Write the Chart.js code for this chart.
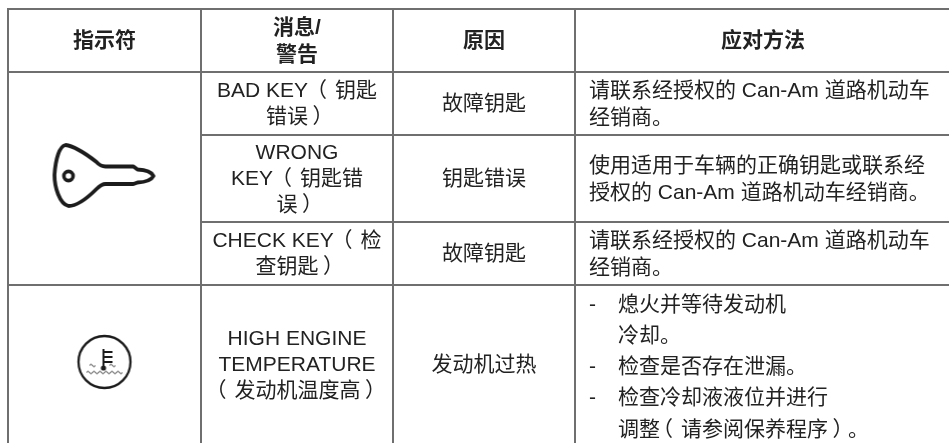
<!DOCTYPE html>
<html lang="zh">
<head>
<meta charset="utf-8">
<title>指示符</title>
<script src="https://cdn.jsdelivr.net/npm/chart.js@4"></script>
<style>
  html, body { margin: 0; padding: 0; background: #fff; }
  canvas { display: block; }
</style>
</head>
<body>
<canvas id="chart" width="949" height="443"></canvas>
<script>
'use strict';

// ── Table content ─────────────────────────────────────────────
const headers  = [['指示符'], ['消息/', '警告'], ['原因'], ['应对方法']];
const messages = [
  ['BAD KEY （钥匙', '错误）'],
  ['WRONG', 'KEY （钥匙错', '误）'],
  ['CHECK KEY （检', '查钥匙）'],
  ['HIGH ENGINE', 'TEMPERATURE', '（发动机温度高）'],
];
const causes   = ['故障钥匙', '钥匙错误', '故障钥匙', '发动机过热'];
const remedies = [
  ['请联系经授权的 Can-Am 道路机动车', '经销商。'],
  ['使用适用于车辆的正确钥匙或联系经', '授权的 Can-Am 道路机动车经销商。'],
  ['请联系经授权的 Can-Am 道路机动车', '经销商。'],
];
const steps    = [
  ['熄火并等待发动机', '冷却。'],
  ['检查是否存在泄漏。'],
  ['检查冷却液液位并进行', '调整（请参阅保养程序）。'],
];

// ── Table geometry, in axis units ─────────────────────────────
const columnEdges = [8, 201, 393, 575, 951];
const rowEdges    = [9, 72, 135, 222, 285, 443];
const ruleStarts  = [8, 8, 201, 201, 8];   // rows 2 and 3 leave the icon cell open
const iconRows    = [176, 362];

const INK  = '#222222';
const RULE = '#6f6f6f';
const FONT = '"Liberation Sans", "Noto Sans CJK SC", sans-serif';
const TEXT_NUDGE = 1;   // middle baseline sits a little high in these fonts

// Full-width brackets sit mid-cell here, not against the text as in Noto
const BRACKETS = {
  '（': { advance: 21, shift: -8 },
  '）': { advance: 20, shift: 4.5 },
};

// ── Icons, used as point styles ───────────────────────────────
function iconCanvas(w, h, draw) {
  const c = document.createElement('canvas');
  c.width = w;
  c.height = h;
  const ctx = c.getContext('2d');
  ctx.strokeStyle = '#1c1c1c';
  ctx.fillStyle = '#1c1c1c';
  ctx.lineJoin = 'round';
  ctx.lineCap = 'round';
  draw(ctx);
  return c;
}

const keyIcon = iconCanvas(110, 70, (ctx) => {
  ctx.lineWidth = 3.8;
  ctx.beginPath();
  ctx.moveTo(56, 25.5);
  ctx.lineTo(84, 25.5);
  ctx.lineTo(88, 28.5);
  ctx.quadraticCurveTo(101, 29, 104, 35);
  ctx.quadraticCurveTo(101, 41, 88, 41.5);
  ctx.lineTo(84, 43);
  ctx.lineTo(56, 43);
  ctx.quadraticCurveTo(52, 43, 47, 48);
  ctx.bezierCurveTo(38, 57, 28, 65, 19, 65);
  ctx.bezierCurveTo(10, 63, 5, 46, 5, 34);
  ctx.bezierCurveTo(6, 18, 10, 5, 16, 4);
  ctx.bezierCurveTo(26, 5, 38, 14, 47, 21);
  ctx.quadraticCurveTo(51, 25.5, 56, 25.5);
  ctx.stroke();
  ctx.lineWidth = 3.6;
  ctx.beginPath();
  ctx.arc(19, 35, 4.6, 0, Math.PI * 2);
  ctx.stroke();
});

const tempIcon = iconCanvas(60, 60, (ctx) => {
  ctx.lineWidth = 2.3;
  ctx.beginPath();
  ctx.arc(30, 30, 26, 0, Math.PI * 2);
  ctx.stroke();
  ctx.lineCap = 'butt';
  ctx.lineWidth = 2;
  ctx.beginPath();
  ctx.moveTo(29, 17);
  ctx.lineTo(29, 36);
  [20, 25, 30].forEach((y) => {
    ctx.moveTo(29, y);
    ctx.lineTo(38, y);
  });
  ctx.stroke();
  ctx.beginPath();
  ctx.arc(29, 36, 2.6, 0, Math.PI * 2);
  ctx.fill();
  ctx.lineWidth = 0.9;
  const wave = (from, to, y) => {
    ctx.moveTo(from, y);
    for (let x = from; x < to; x += 6) {
      ctx.quadraticCurveTo(x + 1.5, y - 2.6, x + 3, y);
      ctx.quadraticCurveTo(x + 4.5, y + 2.6, x + 6, y);
    }
  };
  ctx.beginPath();
  wave(15, 21, 33.5);
  wave(35, 41, 33.5);
  wave(12, 48, 40.5);
  ctx.stroke();
});

// ── Datasets ──────────────────────────────────────────────────
function rule(from, to) {
  return {
    type: 'line',
    data: [from, to],
    borderColor: RULE,
    borderWidth: 2,
    borderCapStyle: 'square',
    pointRadius: 0,
    clip: false,
  };
}

const lastRow = rowEdges[rowEdges.length - 1];
const verticalRules = columnEdges.map((x) => rule({ x, y: rowEdges[0] }, { x, y: lastRow }));
const horizontalRules = ruleStarts.map((x, i) =>
  rule({ x, y: rowEdges[i] }, { x: columnEdges[4], y: rowEdges[i] }));

const iconColumn = (columnEdges[0] + columnEdges[1]) / 2;
const iconPoints = {
  type: 'scatter',
  data: iconRows.map((y) => ({ x: iconColumn, y })),
  pointStyle: [keyIcon, tempIcon],
  pointRadius: 1,
  clip: false,
};

// ── Cell text ─────────────────────────────────────────────────
function putLine(ctx, line, x, y, align, weight) {
  ctx.font = `${weight} 21px ${FONT}`;
  ctx.textAlign = 'left';
  const runs = line.split(/([（）])/).filter(Boolean).map((text) => {
    const bracket = BRACKETS[text];
    return {
      text,
      width: bracket ? bracket.advance : ctx.measureText(text).width,
      shift: bracket ? bracket.shift : 0,
    };
  });
  const total = runs.reduce((sum, r) => sum + r.width, 0);
  let cursor = align === 'center' ? x - total / 2 : x;
  runs.forEach((r) => {
    ctx.fillText(r.text, cursor + r.shift, y);
    cursor += r.width;
  });
}

function centred(ctx, scales, lines, col, row, pitch, weight) {
  const x = scales.x.getPixelForValue((columnEdges[col] + columnEdges[col + 1]) / 2);
  const mid = scales.y.getPixelForValue((rowEdges[row] + rowEdges[row + 1]) / 2) + TEXT_NUDGE;
  lines.forEach((line, i) => {
    putLine(ctx, line, x, mid + (i - (lines.length - 1) / 2) * pitch, 'center', weight);
  });
}

function leftAligned(ctx, scales, lines, row, pitch) {
  const x = scales.x.getPixelForValue(columnEdges[3] + 14);
  const mid = scales.y.getPixelForValue((rowEdges[row] + rowEdges[row + 1]) / 2) + TEXT_NUDGE;
  lines.forEach((line, i) => {
    putLine(ctx, line, x, mid + (i - (lines.length - 1) / 2) * pitch, 'left', 'normal');
  });
}

const tableText = {
  id: 'tableText',
  afterDatasetsDraw(chart) {
    const { ctx, scales } = chart;
    ctx.save();
    ctx.fillStyle = INK;
    ctx.textBaseline = 'middle';

    headers.forEach((lines, col) => centred(ctx, scales, lines, col, 0, 27, 'bold'));
    messages.forEach((lines, i) => centred(ctx, scales, lines, 1, i + 1, 26, 'normal'));
    causes.forEach((text, i) => centred(ctx, scales, [text], 2, i + 1, 26, 'normal'));
    remedies.forEach((lines, i) => leftAligned(ctx, scales, lines, i + 1, 27));

    // Step list in the last row: dash + hanging text, one line pitch throughout
    const stepLeft = scales.x.getPixelForValue(columnEdges[3] + 43);
    const dashLeft = scales.x.getPixelForValue(columnEdges[3] + 14);
    let y = scales.y.getPixelForValue(rowEdges[4] + 19) + TEXT_NUDGE;
    steps.forEach((lines) => {
      putLine(ctx, '-', dashLeft, y, 'left', 'normal');
      lines.forEach((line) => {
        putLine(ctx, line, stepLeft, y, 'left', 'normal');
        y += 31.2;
      });
    });
    ctx.restore();
  },
};

// ── Chart ─────────────────────────────────────────────────────
new Chart(document.getElementById('chart'), {
  data: { datasets: [...verticalRules, ...horizontalRules, iconPoints] },
  plugins: [tableText],
  options: {
    responsive: false,
    animation: false,
    layout: { padding: 0, autoPadding: false },
    parsing: false,
    plugins: { legend: { display: false }, tooltip: { enabled: false } },
    scales: {
      x: { type: 'linear', display: false, min: 0, max: 949 },
      y: { type: 'linear', display: false, min: 0, max: 443, reverse: true },
    },
  },
});
</script>
</body>
</html>
